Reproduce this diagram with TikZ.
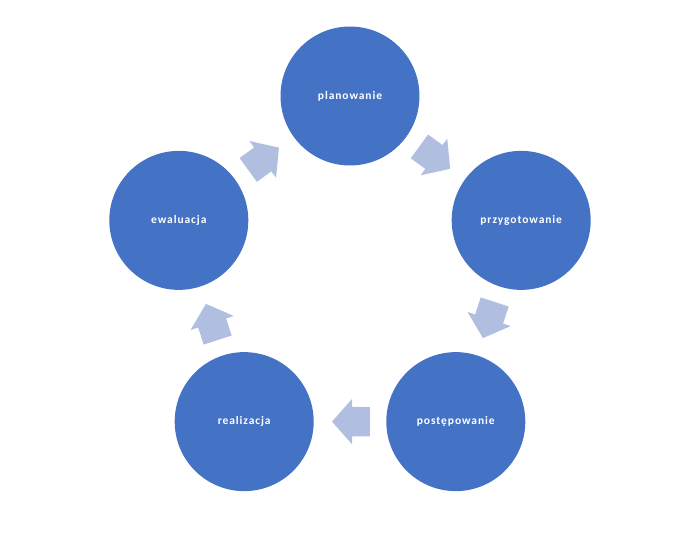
\documentclass[tikz,border=0pt]{standalone}
\usepackage{fontspec}
\setmainfont{Carlito}
\newfontfamily\cyclefont{Carlito}[LetterSpace=8]
\usetikzlibrary{calc,shapes.arrows}
\definecolor{circleblue}{HTML}{4472C4}
\definecolor{arrowblue}{HTML}{B0BEE0}

\begin{document}
\begin{tikzpicture}[
  x=1pt,
  y=1pt,
  every node/.style={font=\cyclefont\bfseries\fontsize{11.5}{13}\selectfont},
  cyclecircle/.style={
    circle,
    fill=circleblue,
    text=white,
    minimum size=139pt,
    inner sep=0pt,
  },
  cyclearrow/.style={
    single arrow,
    fill=arrowblue,
    minimum height=38pt,
    minimum width=45pt,
    single arrow head extend=8pt,
    single arrow tip angle=97,
    inner xsep=0pt,
    inner ysep=14.5pt,
  },
]
\useasboundingbox (-350,-256) rectangle (350,276);
\node[cyclecircle] (N1) at (90:180) {planowanie};
\node[cyclecircle] (N2) at (18:180) {przygotowanie};
\node[cyclecircle] (N3) at (-54:180) {postępowanie};
\node[cyclecircle] (N4) at (-126:180) {realizacja};
\node[cyclecircle] (N5) at (162:180) {ewaluacja};
\node[cyclearrow, rotate=-36] (A1) at ($(N1)!0.5!(N2)!7.5pt!(N1)$) {};
\node[cyclearrow, rotate=-108] (A2) at ($(N2)!0.5!(N3)!7.5pt!(N2)$) {};
\node[cyclearrow, rotate=180] (A3) at ($(N3)!0.5!(N4)!7.5pt!(N3)$) {};
\node[cyclearrow, rotate=108] (A4) at ($(N4)!0.5!(N5)!7.5pt!(N4)$) {};
\node[cyclearrow, rotate=36] (A5) at ($(N5)!0.5!(N1)!7.5pt!(N5)$) {};
\end{tikzpicture}
\end{document}
